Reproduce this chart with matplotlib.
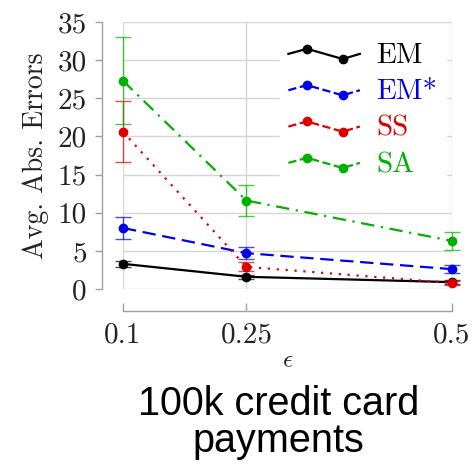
import matplotlib
matplotlib.use("Agg")
import matplotlib.pyplot as plt
from matplotlib.lines import Line2D
from matplotlib.legend_handler import HandlerBase

plt.rcParams["font.family"] = ["cmr10", "DejaVu Serif"]
plt.rcParams["mathtext.fontset"] = "cm"
plt.rcParams["axes.formatter.use_mathtext"] = True

# epsilon values and mean absolute errors (with error bar half-widths)
eps = [0.1, 0.25, 0.5]
em = [3.3, 1.6, 0.9]
em_err = [0.4, 0.3, 0.3]
em_star = [8.0, 4.7, 2.6]
em_star_err = [1.4, 0.8, 0.5]
ss = [20.6, 2.9, 0.8]
ss_err = [4.0, 0.6, 0.3]
sa = [27.3, 11.6, 6.3]
sa_err = [5.7, 2.0, 1.2]

labels = ["EM", "EM*", "SS", "SA"]
colors = ["black", "#0000ee", "#dd0000", "#00b000"]
styles = ["-", (0, (6, 3)), (0, (1, 3)), (0, (6, 3, 1, 3))]

GRID = "#d6d6d6"
SPINE = "#a0a0a0"


class ZigZagHandler(HandlerBase):
    """pgfplots-style legend image: short polyline with two marks."""

    def create_artists(self, legend, orig, xd, yd, width, height, fontsize, trans):
        xs = [0, 0.26 * width, 0.76 * width, width]
        h = height
        ys = [0.45 * h, 0.7 * h, 0.2 * h, 0.45 * h]
        xs = [x - xd for x in xs]
        ys = [y - yd for y in ys]
        ln = Line2D(xs, ys, color=orig.get_color(), ls=orig.get_linestyle(),
                    lw=orig.get_linewidth())
        mk = Line2D(xs[1:3], ys[1:3], ls="none", marker="o",
                    ms=orig.get_markersize(), color=orig.get_color())
        ln.set_transform(trans)
        mk.set_transform(trans)
        return [ln, mk]


fig = plt.figure(figsize=(4.72, 4.69), dpi=100)
ax = fig.add_axes([123 / 472, 1 - 289 / 469, 329 / 472, 267 / 469])

handles = []
for ys, errs, lab, c, ls in zip([em, em_star, ss, sa], [em_err, em_star_err, ss_err, sa_err],
                                labels, colors, styles):
    ax.errorbar(eps, ys, yerr=errs, fmt="none", ecolor=c, alpha=0.7, elinewidth=1.0,
                capsize=5.5, capthick=1.0, clip_on=False, zorder=3)
    ln, = ax.plot(eps, ys, color=c, ls=ls, lw=1.6, marker="o", ms=6, clip_on=False,
                  zorder=4, label=lab)
    handles.append(ln)

ax.set_xlim(0.1, 0.5)
ax.set_ylim(0, 35)
ax.set_xticks(eps)
ax.set_xticklabels(["0.1", "0.25", "0.5"])
ax.set_yticks(range(0, 36, 5))
ax.set_yticklabels([str(v) for v in range(0, 36, 5)])
ax.tick_params(axis="both", labelsize=21, colors=SPINE, labelcolor="#222222")
ax.tick_params(axis="y", direction="out", length=5, width=1, pad=6)
ax.tick_params(axis="x", direction="in", length=6, width=1, pad=8)

ax.grid(True, color=GRID, lw=1.0)
for gl in ax.get_xgridlines() + ax.get_ygridlines():
    gl.set_clip_on(False)
ax.set_axisbelow(True)

for side in ["top", "right"]:
    ax.spines[side].set_visible(False)
ax.spines["left"].set_position(("outward", 15))
ax.spines["bottom"].set_position(("outward", 16))
ax.spines["left"].set_bounds(0, 35)
ax.spines["bottom"].set_bounds(0.1, 0.5)
for side in ["left", "bottom"]:
    ax.spines[side].set_color(SPINE)
    ax.spines[side].set_linewidth(1.0)

ax.set_ylabel("Avg. Abs. Errors", fontsize=20, color="#222222", labelpad=6)
ax.set_xlabel(r"$\epsilon$", fontsize=18, color="#222222", labelpad=1)

leg = ax.legend(handles=handles, labels=labels, loc="upper right",
                bbox_to_anchor=(1.025, 1.01), fontsize=21, frameon=True,
                handler_map={Line2D: ZigZagHandler()}, handlelength=2.45,
                handletextpad=0.55, labelspacing=0.34, borderpad=0.3)
leg.get_frame().set_edgecolor("white")
leg.get_frame().set_facecolor("white")
leg.get_frame().set_alpha(1.0)
leg.get_frame().set_boxstyle("square", pad=0)
for txt, c in zip(leg.get_texts(), colors):
    txt.set_color(c)

# caption under the plot, two centred lines
fig.text(0.59, 1 - 415 / 469, "100k credit card", ha="center", va="baseline",
         fontsize=28.5, family="Liberation Sans")
fig.text(0.59, 1 - 452 / 469, "payments", ha="center", va="baseline",
         fontsize=28.5, family="Liberation Sans")

fig.savefig("out.png", dpi=100)
